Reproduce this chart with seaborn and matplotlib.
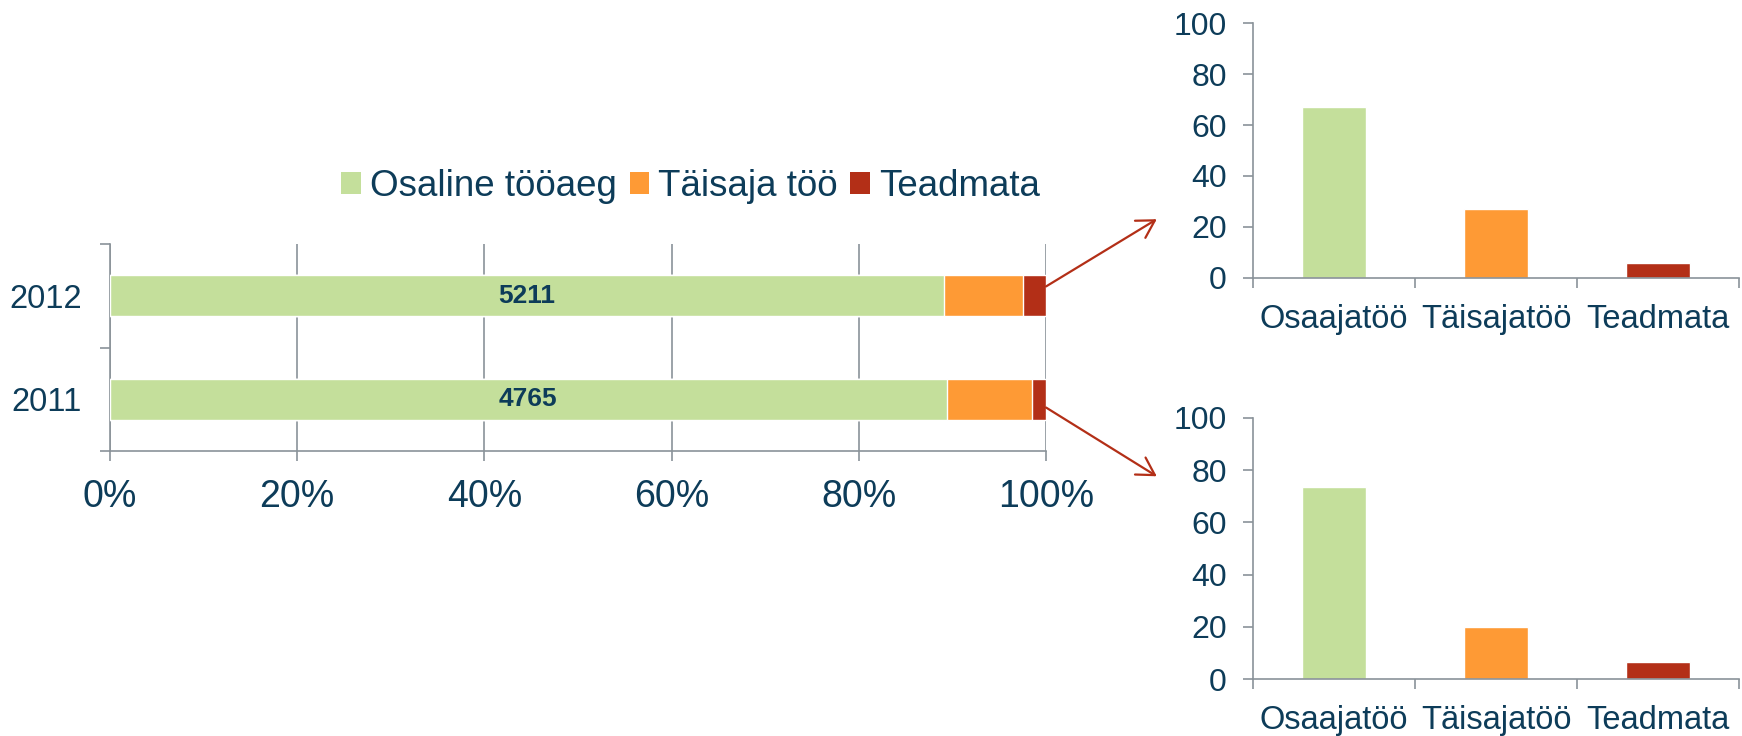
import matplotlib
matplotlib.use("Agg")
import matplotlib.pyplot as plt
from matplotlib.patches import Patch
import seaborn as sns
import pandas as pd

# ---------------- data ----------------
years = ["2012", "2011"]
osaline = [89.1, 89.4]          # % Osaline tööaeg
taisaja = [8.4, 9.1]            # % Täisaja töö
teadmata = [2.5, 1.5]           # % Teadmata
bar_counts = ["5211", "4765"]
series_names = ["Osaline tööaeg", "Täisaja töö", "Teadmata"]

small_cats = ["Osaajatöö", "Täisajatöö", "Teadmata"]
small_2012 = [67.1, 27.0, 5.9]
small_2011 = [73.4, 19.9, 6.5]

x_ticks = [0, 20, 40, 60, 80, 100]
x_tick_labels = ["0%", "20%", "40%", "60%", "80%", "100%"]
small_y_ticks = [0, 20, 40, 60, 80, 100]

# ---------------- style ----------------
GREEN = "#c4df9b"
ORANGE = "#fe9a35"
RED = "#b32f17"
TXT = "#0d3c59"
GRAY = "#8a9299"
colors = [GREEN, ORANGE, RED]

sns.set_theme(style="white")
plt.rcParams["font.family"] = ["Liberation Sans", "DejaVu Sans"]
plt.rcParams["text.color"] = TXT
plt.rcParams["xtick.color"] = GRAY
plt.rcParams["ytick.color"] = GRAY
plt.rcParams["xtick.labelcolor"] = TXT
plt.rcParams["ytick.labelcolor"] = TXT

fig = plt.figure(figsize=(17.42, 7.36), dpi=100)

# ---------------- main stacked bar ----------------
ax = fig.add_axes([0.0631, 0.3872, 0.5374, 0.2813])
df = pd.DataFrame({"year": years,
                   "g": osaline, "o": taisaja, "r": teadmata})
df["go"] = df["g"] + df["o"]
df["gor"] = df["go"] + df["r"]

sns.barplot(data=df, x="gor", y="year", order=years, orient="h", color=RED,
            width=0.4, saturation=1, ax=ax, zorder=3)
sns.barplot(data=df, x="go", y="year", order=years, orient="h", color=ORANGE,
            width=0.4, saturation=1, ax=ax, zorder=3)
sns.barplot(data=df, x="g", y="year", order=years, orient="h", color=GREEN,
            width=0.4, saturation=1, ax=ax, zorder=3)
ax.bar_label(ax.containers[-1], labels=bar_counts, label_type="center",
             fontsize=19, fontweight="bold", color=TXT)

ax.set_xlim(0, 100)
ax.set_ylim(1.5, -0.5)
ax.set_xticks(x_ticks)
ax.set_xticklabels(x_tick_labels, fontsize=27)
ax.set_xlabel("")
ax.set_ylabel("")
ax.tick_params(axis="x", length=7, width=1.2, pad=13.5, direction="out", bottom=True)
ax.tick_params(axis="y", which="major", length=0, pad=20, labelsize=23.5)
ax.set_yticks([-0.5, 0.5, 1.5], minor=True)
ax.tick_params(axis="y", which="minor", length=7, width=1.2, direction="out", left=True)
ax.grid(axis="x", color=GRAY, lw=1.2, zorder=0)
ax.set_axisbelow(True)
for s in ["top", "right"]:
    ax.spines[s].set_visible(False)
for s in ["left", "bottom"]:
    ax.spines[s].set_color(GRAY)
    ax.spines[s].set_linewidth(1.2)

handles = [Patch(facecolor=c, edgecolor="none") for c in colors]
fig.legend(handles, series_names, loc="center left", bbox_to_anchor=(0.196, 0.747),
           ncol=3, frameon=False, fontsize=26.5, handlelength=0.53, handleheight=0.53,
           handletextpad=0.24, columnspacing=0.35, borderpad=0, borderaxespad=0,
           labelcolor=TXT)


# ---------------- small bar charts ----------------
def small_chart(rect, values):
    a = fig.add_axes(rect)
    sdf = pd.DataFrame({"cat": small_cats, "val": values})
    sns.barplot(data=sdf, x="cat", y="val", hue="cat", order=small_cats,
                hue_order=small_cats, palette=colors, legend=False, width=0.4,
                saturation=1, ax=a)
    a.set_xlim(-0.5, 2.5)
    a.set_ylim(0, 100)
    a.set_yticks(small_y_ticks)
    a.set_xlabel("")
    a.set_ylabel("")
    a.tick_params(axis="y", length=7, width=1.2, pad=12, labelsize=23, direction="out", left=True)
    a.tick_params(axis="x", which="major", length=0, pad=19, labelsize=23.5)
    a.set_xticks([-0.5, 0.5, 1.5, 2.5], minor=True)
    a.tick_params(axis="x", which="minor", length=7, width=1.2, direction="out", bottom=True)
    for s in ["top", "right"]:
        a.spines[s].set_visible(False)
    for s in ["left", "bottom"]:
        a.spines[s].set_color(GRAY)
        a.spines[s].set_linewidth(1.2)
    return a


ax1 = small_chart([0.7193, 0.6227, 0.2790, 0.3456], small_2012)
ax2 = small_chart([0.7193, 0.0774, 0.2790, 0.3550], small_2011)

# ---------------- arrows ----------------
arrow_kw = dict(arrowstyle="->,head_length=0.62,head_width=0.36", color=RED, lw=1.6,
                shrinkA=0, shrinkB=0, mutation_scale=20)
ax.annotate("", xy=(-0.198, 0.23), xycoords=ax1.transAxes,
            xytext=(100, -0.09), textcoords=ax.transData,
            arrowprops=arrow_kw, annotation_clip=False)
ax.annotate("", xy=(-0.198, 0.776), xycoords=ax2.transAxes,
            xytext=(100, 1.08), textcoords=ax.transData,
            arrowprops=arrow_kw, annotation_clip=False)

fig.savefig("out.png", dpi=100)
